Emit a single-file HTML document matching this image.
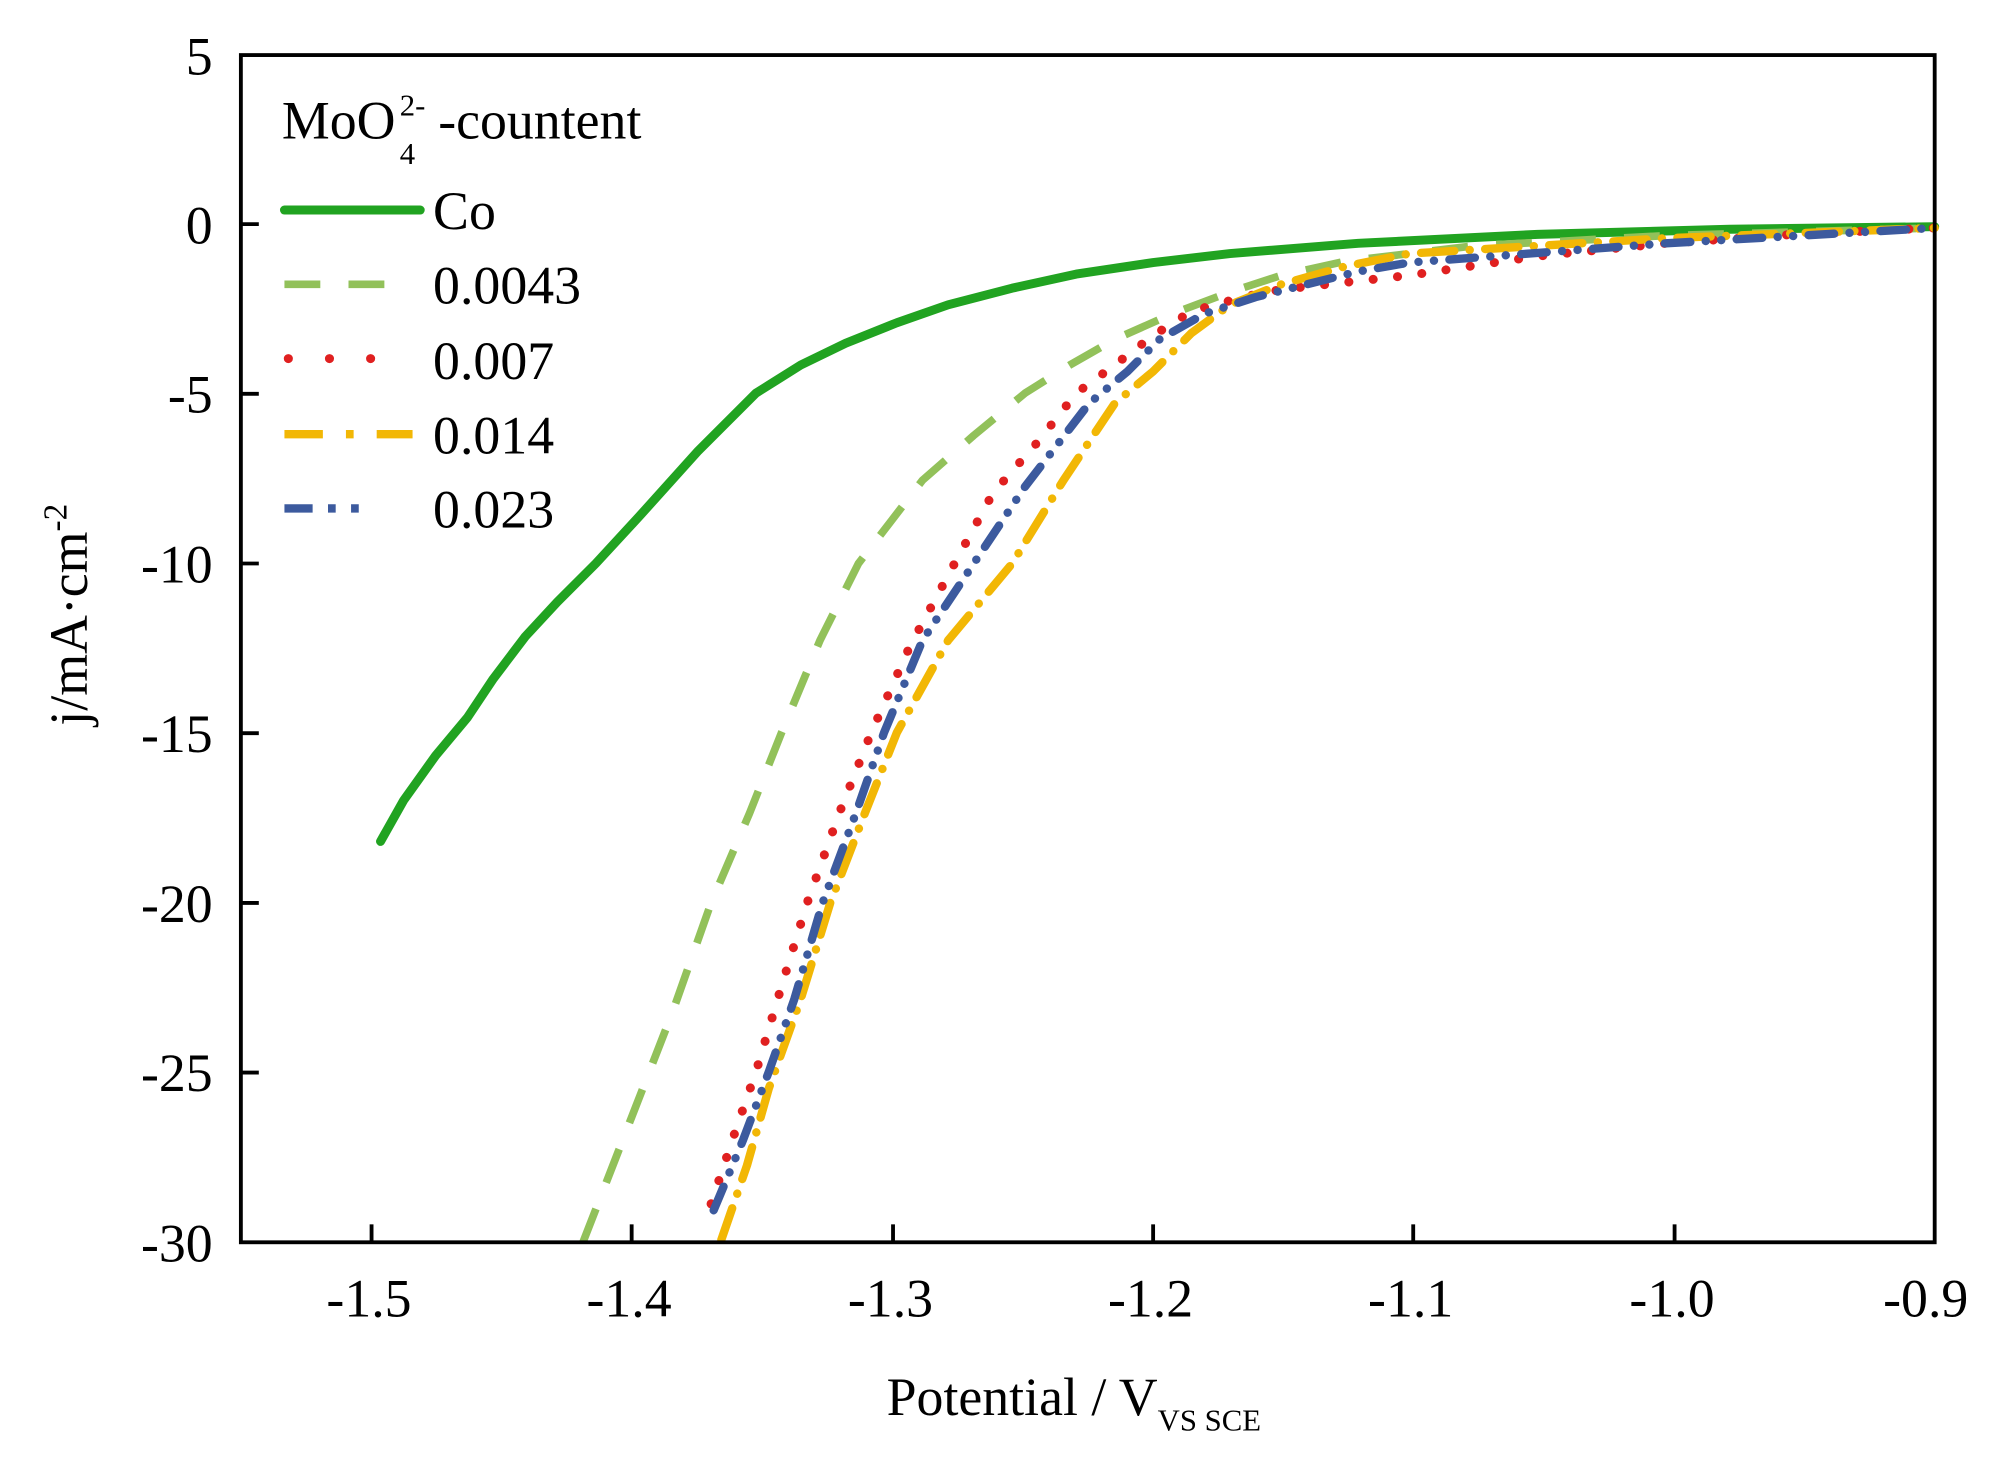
<!DOCTYPE html>
<html><head><style>html,body{margin:0;padding:0;background:#fff}svg{display:block}</style></head>
<body>
<svg width="2009" height="1460" viewBox="0 0 1568 1140" preserveAspectRatio="none" xmlns="http://www.w3.org/2000/svg" font-family="Liberation Serif, serif">
<rect width="1568" height="1140" fill="#fff"/>
<g fill="none" stroke-linejoin="round" stroke-linecap="round">
<polyline stroke="#21a321" stroke-width="7" points="297,657 315,625 340,590 365,560 385,530 410,497 435,470 465,440 500,402 545,352 590,307 625,285 660,268 700,252 740,238 790,225 840,214 900,205 960,198 1060,190 1200,183 1350,179 1510,177"/>
<polyline stroke="#92c15a" stroke-width="6" stroke-linecap="butt" stroke-dasharray="28,22" points="455,970 490,880 525,790 555,705 585,635 610,572 640,500 670,440 720,375 760,340 800,307 835,285 870,265 915,245 960,228 1000,215 1050,204 1150,192 1300,184 1510,178"/>
<polyline stroke="#e02020" stroke-width="7" stroke-dasharray="0.1,19" points="555,940 575,880 590,837 610,770 630,705 655,635 680,572 710,505 745,440 775,385 810,345 840,307 870,285 900,262 930,243 970,232 1000,226 1100,215 1200,200 1300,190 1400,183 1510,178"/>
<polyline stroke="#f2b705" stroke-width="6.5" stroke-dasharray="26,12,0.1,12" points="563,968 583,910 600,850 625,780 648,705 675,635 700,572 740,500 790,440 830,375 870,315 900,290 930,260 960,238 1000,222 1050,208 1100,198 1300,186 1510,178"/>
<polyline stroke="#3c5a9e" stroke-width="6.5" stroke-dasharray="20,12,0.1,12,0.1,12" points="557,945 580,890 600,837 620,780 642,705 668,635 690,572 720,500 760,440 800,380 850,315 880,290 905,265 940,245 980,232 1020,222 1060,212 1100,205 1300,190 1510,178"/>
</g>
<rect x="188" y="43" width="1322" height="927" fill="none" stroke="#000" stroke-width="3"/>
<g stroke="#000" stroke-width="3">
<line x1="188" y1="175" x2="202" y2="175"/><line x1="188" y1="307.5" x2="202" y2="307.5"/><line x1="188" y1="440" x2="202" y2="440"/><line x1="188" y1="572.5" x2="202" y2="572.5"/><line x1="188" y1="705" x2="202" y2="705"/><line x1="188" y1="837.5" x2="202" y2="837.5"/>
<line x1="290" y1="970" x2="290" y2="956"/><line x1="493" y1="970" x2="493" y2="956"/><line x1="697" y1="970" x2="697" y2="956"/><line x1="900" y1="970" x2="900" y2="956"/><line x1="1103" y1="970" x2="1103" y2="956"/><line x1="1307" y1="970" x2="1307" y2="956"/>
</g>
<g font-size="42" text-anchor="end" fill="#000">
<text x="166" y="58">5</text><text x="166" y="190">0</text><text x="166" y="322">-5</text><text x="166" y="455">-10</text><text x="166" y="587">-15</text><text x="166" y="720">-20</text><text x="166" y="852">-25</text><text x="166" y="985">-30</text>
</g>
<g font-size="42" text-anchor="middle" fill="#000">
<text x="288" y="1028">-1.5</text><text x="491" y="1028">-1.4</text><text x="695" y="1028">-1.3</text><text x="898" y="1028">-1.2</text><text x="1101" y="1028">-1.1</text><text x="1305" y="1028">-1.0</text><text x="1503" y="1028">-0.9</text>
</g>
<text x="692" y="1105" font-size="42">Potential / V<tspan font-size="24" dy="12">VS SCE</tspan></text>
<text transform="translate(68,480) rotate(-90)" text-anchor="middle" font-size="42">j/mA·cm<tspan font-size="26" dy="-16">-2</tspan></text>
<text x="220" y="108" font-size="42">MoO</text>
<text x="312" y="90" font-size="24">2-</text>
<text x="312" y="128" font-size="24">4</text>
<text x="342" y="108" font-size="42">-countent</text>
<g stroke-linecap="round">
<line x1="222" y1="164" x2="328" y2="164" stroke="#21a321" stroke-width="7"/>
<line x1="222" y1="222" x2="312" y2="222" stroke="#92c15a" stroke-width="6" stroke-linecap="butt" stroke-dasharray="28,22"/>
<line x1="225" y1="280" x2="300" y2="280" stroke="#e02020" stroke-width="7" stroke-dasharray="0.1,32"/>
<line x1="222" y1="339" x2="322" y2="339" stroke="#f2b705" stroke-width="6.5" stroke-linecap="butt" stroke-dasharray="30,18,6,18,40"/>
<line x1="222" y1="397" x2="292" y2="397" stroke="#3c5a9e" stroke-width="6.5" stroke-linecap="butt" stroke-dasharray="22,12,6,12,6,12"/>
</g>
<g font-size="42" fill="#000">
<text x="338" y="179">Co</text><text x="338" y="237">0.0043</text><text x="338" y="296">0.007</text><text x="338" y="354">0.014</text><text x="338" y="412">0.023</text>
</g>
</svg>
</body></html>
